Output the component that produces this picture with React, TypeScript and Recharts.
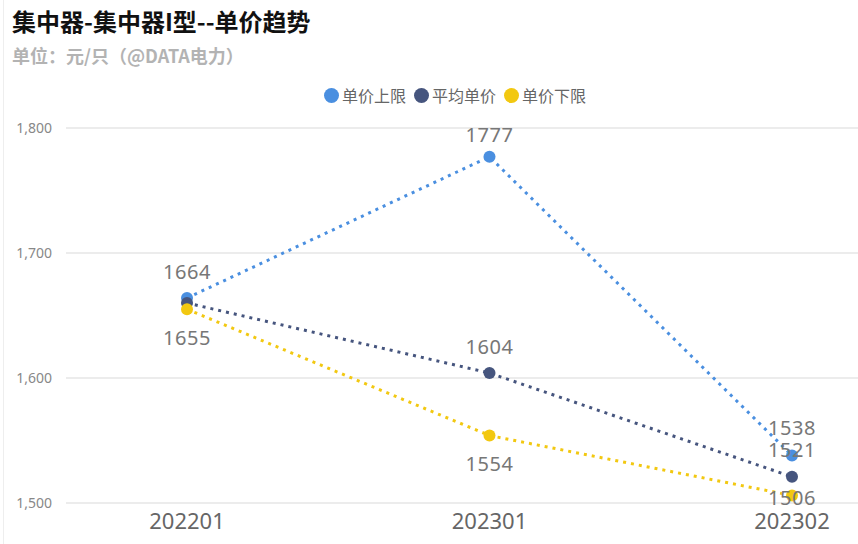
import React from "react";
import { LineChart, Line, XAxis, YAxis, CartesianGrid, LabelList } from "recharts";

const categories = ["202201", "202301", "202302"];
const upperValues = [1664, 1777, 1538];
const avgValues = [1660, 1604, 1521];
const lowerValues = [1655, 1554, 1506];
const yTicks = [1500, 1600, 1700, 1800];

const seriesNames = ["单价上限", "平均单价", "单价下限"];
const colors = ["#4A8FE0", "#46557E", "#F2C811"];

// label placement: vertical offset of label center from point (null = hidden)
const upperLabelDy = [-27, -22, -28];
const avgLabelDy = [null, -27, -27];
const lowerLabelDy = [28, 28, 2];

const data = categories.map((c, i) => ({
  cat: c,
  upper: upperValues[i],
  avg: avgValues[i],
  lower: lowerValues[i],
}));

const makeLabel = (dys: (number | null)[]) => (props: any) => {
  const { x, y, value, index } = props;
  const dy = dys[index];
  if (dy === null || dy === undefined) return null;
  return (
    <text
      x={x}
      y={y + dy}
      textAnchor="middle"
      dominantBaseline="central"
      fill="#777"
      fontSize={20}
      letterSpacing={0.5}
      fontFamily="'Noto Sans', sans-serif"
    >
      {value}
    </text>
  );
};

const fmt = (v: number) => v.toLocaleString("en-US");

export default function App() {
  return (
    <div
      style={{
        position: "fixed",
        left: 0,
        top: 0,
        width: 858,
        height: 544,
        background: "#fff",
        fontFamily: "'Noto Sans CJK SC', 'Noto Sans', sans-serif",
        overflow: "hidden",
      }}
    >
      <div style={{ position: "absolute", left: 3, top: 0, width: 1, height: 544, background: "#eeeeee" }} />
      <div
        style={{
          position: "absolute",
          left: 12,
          top: 3,
          fontSize: 24,
          fontWeight: 700,
          color: "#111",
          whiteSpace: "nowrap",
        }}
      >
        集中器-集中器I型--单价趋势
      </div>
      <div
        style={{
          position: "absolute",
          left: 12,
          top: 42,
          fontSize: 18,
          fontWeight: 700,
          color: "#b3b3b3",
          whiteSpace: "nowrap",
        }}
      >
        单位：元/只（@DATA电力）
      </div>
      <div
        style={{
          position: "absolute",
          left: 0,
          top: 83,
          width: 918,
          display: "flex",
          justifyContent: "center",
          alignItems: "center",
          fontSize: 16,
          color: "#666",
          whiteSpace: "nowrap",
        }}
      >
        {seriesNames.map((n, i) => (
          <div key={n} style={{ display: "flex", alignItems: "center", marginRight: 8 }}>
            <span
              style={{
                display: "inline-block",
                width: 15,
                height: 15,
                borderRadius: 8,
                background: colors[i],
                marginRight: 3,
              }}
            />
            <span>{n}</span>
          </div>
        ))}
      </div>
      <div style={{ position: "absolute", left: 0, top: 0 }}>
        <LineChart width={858} height={544} data={data} margin={{ top: 128, right: 0, bottom: 0, left: 0 }}>
          <CartesianGrid vertical={false} stroke="#e6e6e6" strokeWidth={1.5} />
          <XAxis
            dataKey="cat"
            axisLine={false}
            tickLine={false}
            height={41}
            padding={{ left: 121, right: 66 }}
            tick={{ fontSize: 22, fill: "#666", fontFamily: "'Noto Sans', sans-serif" }}
            tickMargin={4}
          />
          <YAxis
            domain={[1500, 1800]}
            ticks={yTicks}
            width={66}
            axisLine={false}
            tickLine={false}
            tickFormatter={fmt}
            tickMargin={8}
            tick={{ fontSize: 14, fill: "#888", fontFamily: "'Noto Sans', sans-serif" }}
          />
          <Line
            dataKey="upper"
            stroke={colors[0]}
            strokeWidth={3}
            strokeDasharray="3 5"
            dot={{ r: 6, fill: colors[0], stroke: "none" }}
            activeDot={false}
            isAnimationActive={false}
          >
            <LabelList dataKey="upper" content={makeLabel(upperLabelDy)} />
          </Line>
          <Line
            dataKey="avg"
            stroke={colors[1]}
            strokeWidth={3}
            strokeDasharray="3 5"
            dot={{ r: 6, fill: colors[1], stroke: "none" }}
            activeDot={false}
            isAnimationActive={false}
          >
            <LabelList dataKey="avg" content={makeLabel(avgLabelDy)} />
          </Line>
          <Line
            dataKey="lower"
            stroke={colors[2]}
            strokeWidth={3}
            strokeDasharray="3 5"
            dot={{ r: 6, fill: colors[2], stroke: "none" }}
            activeDot={false}
            isAnimationActive={false}
          >
            <LabelList dataKey="lower" content={makeLabel(lowerLabelDy)} />
          </Line>
        </LineChart>
      </div>
    </div>
  );
}
